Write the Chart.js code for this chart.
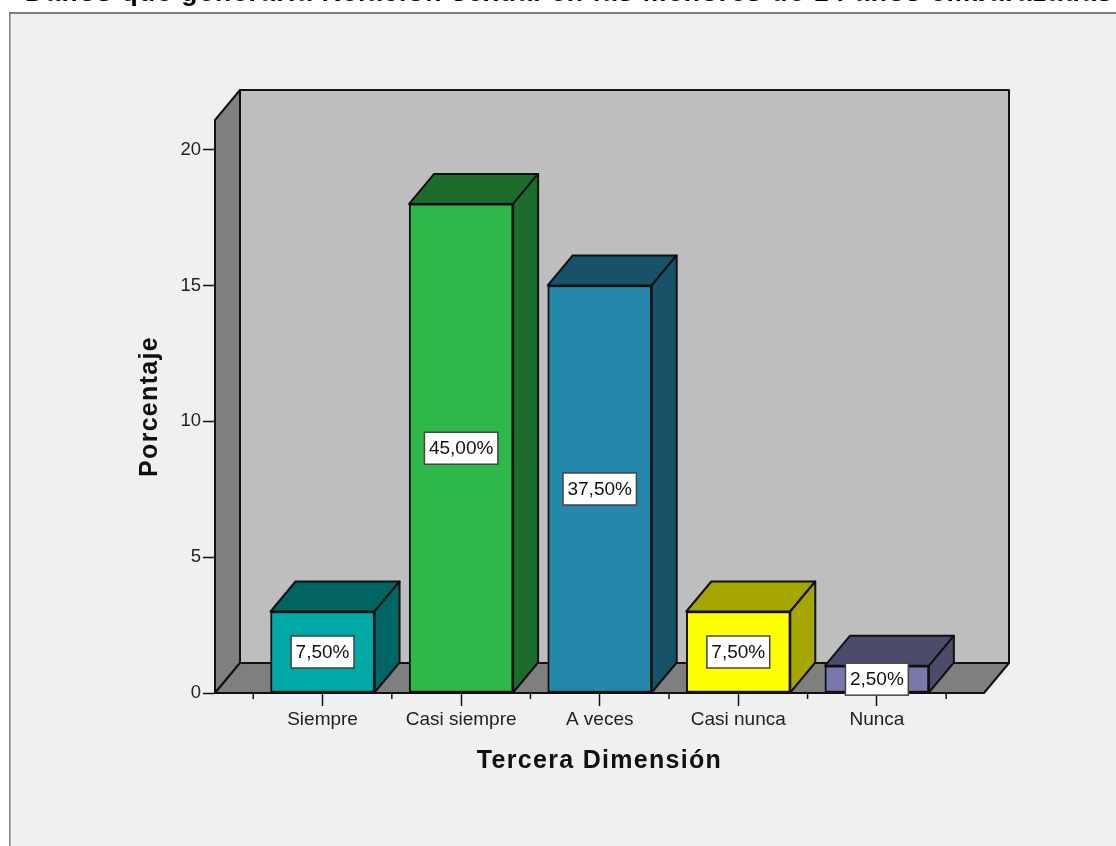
<!DOCTYPE html>
<html lang="es">
<head>
  <meta charset="UTF-8">
  <title>Tercera Dimensión</title>
  <script src="https://cdn.jsdelivr.net/npm/chart.js"></script>
  <style>
    html, body { margin: 0; padding: 0; background: #fff; overflow: hidden; }
    canvas { display: block; }
  </style>
</head>
<body>
  <canvas id="chart" width="1116" height="846"></canvas>

  <script>
    const titleText = 'Daños que generaría Relación sexual en las menores de 14 años embarazadas';
    const categories = ['Siempre', 'Casi siempre', 'A veces', 'Casi nunca', 'Nunca'];
    const values = [3, 18, 15, 3, 1];
    const valueLabels = ['7,50%', '45,00%', '37,50%', '7,50%', '2,50%'];
    const frontColors = ['#00a9a6', '#2fb84a', '#2587ac', '#ffff00', '#7878ac'];
    const depthColors = ['#006663', '#1c6d2c', '#175268', '#a6a600', '#4b4b6c'];
    const yTicks = [0, 5, 10, 15, 20];

    const DEPTH_X = 25;
    const DEPTH_Y = 30;
    const LINE = '#111';
    const FONT = '"Liberation Sans", Arial, sans-serif';

    function poly(ctx, pts, fill, stroke, width) {
      ctx.beginPath();
      pts.forEach((p, i) => i ? ctx.lineTo(p[0], p[1]) : ctx.moveTo(p[0], p[1]));
      ctx.closePath();
      ctx.fillStyle = fill;
      ctx.fill();
      ctx.lineJoin = 'round';
      ctx.lineWidth = width;
      ctx.strokeStyle = stroke;
      ctx.stroke();
    }

    // axis titles are spaced wider than the tick labels
    function spaceTitle(scale) {
      const draw = scale.drawTitle;
      scale.drawTitle = function () {
        scale.ctx.letterSpacing = '1.3px';
        draw.call(scale);
        scale.ctx.letterSpacing = '0px';
      };
    }

    const backdrop = {
      id: 'backdrop',
      afterLayout(chart) {
        spaceTitle(chart.scales.x);
        spaceTitle(chart.scales.y);
      },
      // panel and the three walls behind the bars
      beforeDraw(chart) {
        const { ctx, chartArea: a } = chart;
        ctx.save();
        ctx.fillStyle = '#fff';
        ctx.fillRect(0, 0, chart.width, chart.height);
        ctx.fillStyle = '#f0f0f0';
        ctx.fillRect(9, 13, chart.width, chart.height);
        ctx.fillStyle = '#7c7c7c';
        ctx.fillRect(9, 12, chart.width, 2);
        ctx.fillRect(9, 12, 1.5, chart.height);

        const backRight = a.right + DEPTH_X;
        const backLeft = a.left + DEPTH_X;
        const backTop = a.top - DEPTH_Y;
        const backBottom = a.bottom - DEPTH_Y;
        poly(ctx, [[backLeft, backTop], [backRight, backTop], [backRight, backBottom], [backLeft, backBottom]], '#bebebe', LINE, 2);
        poly(ctx, [[a.left, a.top], [backLeft, backTop], [backLeft, backBottom], [a.left, a.bottom]], '#7f7f7f', LINE, 2);
        poly(ctx, [[a.left, a.bottom], [backLeft, backBottom], [backRight, backBottom], [a.right, a.bottom]], '#7f7f7f', LINE, 2);

        // small ticks between the categories
        const x = chart.scales.x;
        ctx.strokeStyle = LINE;
        ctx.lineWidth = 1.5;
        for (let i = 0; i <= categories.length; i++) {
          const px = x.getPixelForValue(i - 0.5);
          ctx.beginPath();
          ctx.moveTo(px, a.bottom);
          ctx.lineTo(px, a.bottom + 6);
          ctx.stroke();
        }
        ctx.restore();
      },
      // top and side faces of each bar
      beforeDatasetsDraw(chart) {
        const { ctx } = chart;
        ctx.save();
        chart.getDatasetMeta(0).data.forEach((bar, i) => {
          const l = bar.x - bar.width / 2;
          const r = bar.x + bar.width / 2;
          const t = bar.y;
          const b = bar.base;
          poly(ctx, [[l, t], [l + DEPTH_X, t - DEPTH_Y], [r + DEPTH_X, t - DEPTH_Y], [r, t]], depthColors[i], LINE, 2);
          poly(ctx, [[r, t], [r + DEPTH_X, t - DEPTH_Y], [r + DEPTH_X, b - DEPTH_Y], [r, b]], depthColors[i], LINE, 2);
        });
        ctx.restore();
      },
      // white value boxes and the title cut by the top edge
      afterDraw(chart) {
        const { ctx } = chart;
        ctx.save();
        ctx.textAlign = 'center';
        ctx.textBaseline = 'middle';
        ctx.font = '19px ' + FONT;
        chart.getDatasetMeta(0).data.forEach((bar, i) => {
          const w = ctx.measureText(valueLabels[i]).width + 9;
          const h = 32;
          const cy = (bar.y + bar.base) / 2;
          ctx.fillStyle = '#fff';
          ctx.fillRect(bar.x - w / 2, cy - h / 2, w, h);
          ctx.lineWidth = 1.5;
          ctx.strokeStyle = '#444';
          ctx.strokeRect(bar.x - w / 2, cy - h / 2, w, h);
          ctx.fillStyle = '#111';
          ctx.fillText(valueLabels[i], bar.x, cy + 1);
        });
        ctx.textAlign = 'left';
        ctx.textBaseline = 'alphabetic';
        ctx.font = 'bold 26.5px ' + FONT;
        ctx.letterSpacing = '1.35px';
        ctx.fillStyle = '#000';
        ctx.fillText(titleText, 25, 1);
        ctx.restore();
      }
    };

    new Chart(document.getElementById('chart'), {
      type: 'bar',
      data: {
        datasets: [{
          data: values.map((v, i) => ({ x: i, y: v })),
          backgroundColor: frontColors,
          borderColor: LINE,
          borderWidth: 2,
          borderSkipped: false,
          barThickness: 104
        }]
      },
      plugins: [backdrop],
      options: {
        responsive: false,
        animation: false,
        events: [],
        layout: { padding: { top: 120, right: 132, left: 0, bottom: 0 } },
        plugins: { legend: { display: false }, title: { display: false }, tooltip: { enabled: false } },
        scales: {
          x: {
            type: 'linear',
            offset: false,
            min: -0.776,
            max: 4.773,
            afterFit(scale) { scale.height = 153; },
            afterBuildTicks(scale) { scale.ticks = categories.map((c, i) => ({ value: i })); },
            grid: { offset: false, drawOnChartArea: false, tickLength: 13, tickColor: LINE, tickWidth: 1.5 },
            border: { color: LINE, width: 2 },
            ticks: {
              autoSkip: false,
              maxRotation: 0,
              padding: 2,
              color: '#222',
              font: { family: FONT, size: 19 },
              callback: (v) => categories[v]
            },
            title: {
              display: true,
              text: 'Tercera Dimensión',
              color: '#111',
              font: { family: FONT, size: 25, weight: 'bold' },
              padding: { top: 0, bottom: 70 }
            }
          },
          y: {
            min: 0,
            max: 21.09,
            afterFit(scale) { scale.width = 215; },
            afterBuildTicks(scale) { scale.ticks = yTicks.map((value) => ({ value })); },
            grid: { drawOnChartArea: false, tickLength: 12, tickColor: LINE, tickWidth: 1.5 },
            border: { color: LINE, width: 2 },
            ticks: {
              padding: 2,
              color: '#222',
              font: { family: FONT, size: 18.5 }
            },
            title: {
              display: true,
              text: 'Porcentaje',
              color: '#111',
              font: { family: FONT, size: 25, weight: 'bold' },
              padding: { top: 135, bottom: 0 }
            }
          }
        }
      }
    });
  </script>
</body>
</html>
